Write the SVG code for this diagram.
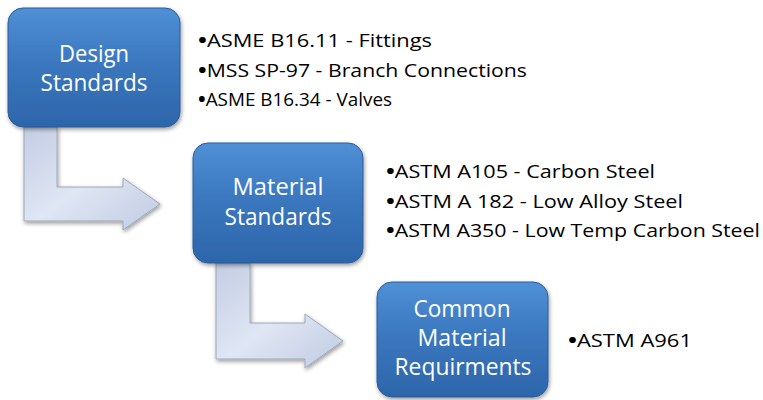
<svg xmlns="http://www.w3.org/2000/svg" width="763" height="400" viewBox="0 0 763 400">
  <defs>
    <linearGradient id="boxGrad" x1="0" y1="0" x2="0" y2="1">
      <stop offset="0" stop-color="#5090d6"/>
      <stop offset="0.45" stop-color="#3b78bf"/>
      <stop offset="1" stop-color="#2d65aa"/>
    </linearGradient>
    <linearGradient id="arrowGrad" x1="0" y1="0" x2="1" y2="1">
      <stop offset="0" stop-color="#c3cde3"/>
      <stop offset="0.5" stop-color="#dfe6f4"/>
      <stop offset="1" stop-color="#c0cbe2"/>
    </linearGradient>
    <filter id="shadow" x="-10%" y="-10%" width="125%" height="130%">
      <feGaussianBlur in="SourceAlpha" stdDeviation="2"/>
      <feOffset dx="1" dy="2" result="b"/>
      <feComponentTransfer><feFuncA type="linear" slope="0.4"/></feComponentTransfer>
      <feMerge><feMergeNode/><feMergeNode in="SourceGraphic"/></feMerge>
    </filter>
  </defs>
  <style>
    .box { fill: url(#boxGrad); stroke: #2b5c99; stroke-width: 1; filter: url(#shadow); }
    .arrow { fill: url(#arrowGrad); stroke: #9ea7b8; stroke-width: 1; filter: url(#shadow); }
    .label { font-family: "Open Sans", "Noto Sans", sans-serif; font-size: 23px; fill: #ffffff; text-anchor: middle; }
    .item { font-family: "Open Sans", "Noto Sans", sans-serif; font-size: 18.5px; fill: #000000; }
    .bul { font-size: 20px; font-weight: bold; }
  </style>
  <rect width="763" height="400" fill="#ffffff"/>

  <g id="connectors">
    <path class="arrow" d="M24,127 L57,127 L57,187 L123,187 L123,178 L160,204 L123,230 L123,221 L24,221 Z"/>
    <path class="arrow" d="M216,263 L250,263 L250,323 L305,323 L305,314 L343,341 L305,368 L305,359 L216,359 Z"/>
  </g>

  <g id="node-design">
    <rect class="box" x="8" y="8" width="172" height="119" rx="15" ry="15"/>
    <text class="label"><tspan x="94" y="62" textLength="70" lengthAdjust="spacingAndGlyphs">Design</tspan><tspan x="94" y="91" textLength="107" lengthAdjust="spacingAndGlyphs">Standards</tspan></text>
  </g>

  <g id="node-material">
    <rect class="box" x="193" y="143" width="170" height="120" rx="15" ry="15"/>
    <text class="label"><tspan x="278" y="195" textLength="91" lengthAdjust="spacingAndGlyphs">Material</tspan><tspan x="278" y="225" textLength="107" lengthAdjust="spacingAndGlyphs">Standards</tspan></text>
  </g>

  <g id="node-common">
    <rect class="box" x="377" y="282" width="171" height="115" rx="15" ry="15"/>
    <text class="label"><tspan x="462" y="317" textLength="97" lengthAdjust="spacingAndGlyphs">Common</tspan><tspan x="462" y="346" textLength="89" lengthAdjust="spacingAndGlyphs">Material</tspan><tspan x="463" y="375" textLength="137" lengthAdjust="spacingAndGlyphs">Requirments</tspan></text>
  </g>

  <g id="list-design">
    <text class="item" x="198" y="47" textLength="234" lengthAdjust="spacingAndGlyphs"><tspan class="bul">•</tspan>ASME B16.11 - Fittings</text>
    <text class="item" x="198" y="77" textLength="329" lengthAdjust="spacingAndGlyphs"><tspan class="bul">•</tspan>MSS SP-97 - Branch Connections</text>
    <text class="item" x="198" y="106" textLength="194" lengthAdjust="spacingAndGlyphs"><tspan class="bul">•</tspan>ASME B16.34 - Valves</text>
  </g>

  <g id="list-material">
    <text class="item" x="386" y="178" textLength="269" lengthAdjust="spacingAndGlyphs"><tspan class="bul">•</tspan>ASTM A105 - Carbon Steel</text>
    <text class="item" x="386" y="208" textLength="297" lengthAdjust="spacingAndGlyphs"><tspan class="bul">•</tspan>ASTM A 182 - Low Alloy Steel</text>
    <text class="item" x="386" y="237" textLength="374" lengthAdjust="spacingAndGlyphs"><tspan class="bul">•</tspan>ASTM A350 - Low Temp Carbon Steel</text>
  </g>

  <g id="list-common">
    <text class="item" x="568" y="347" textLength="124" lengthAdjust="spacingAndGlyphs"><tspan class="bul">•</tspan>ASTM A961</text>
  </g>
</svg>
